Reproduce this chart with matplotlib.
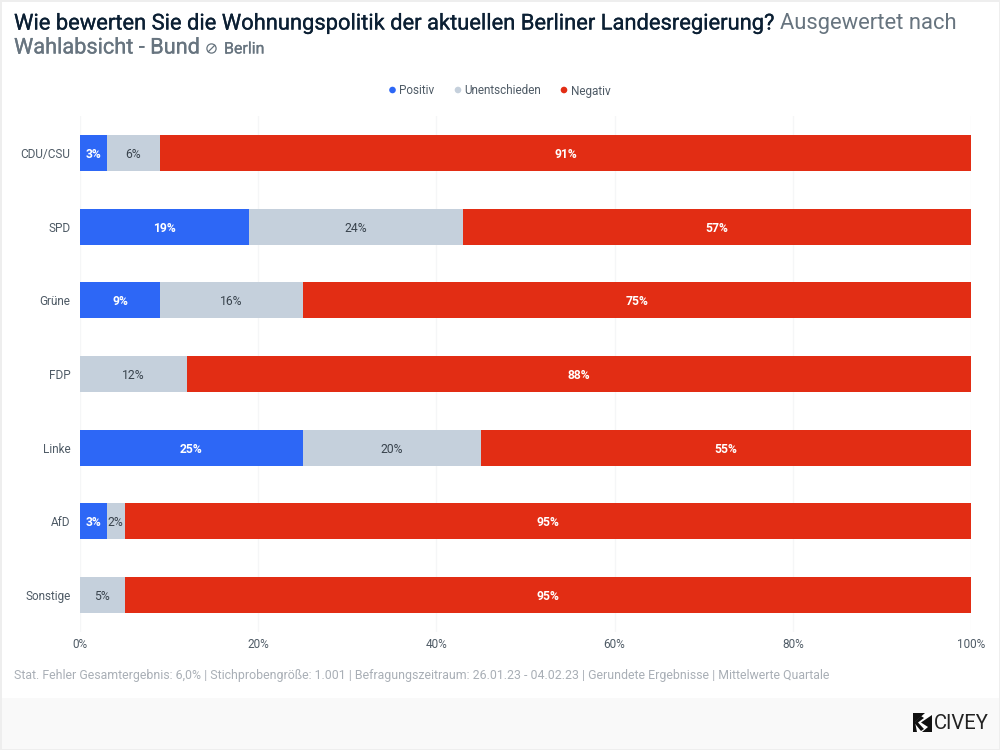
import matplotlib
matplotlib.use('Agg')
import matplotlib.pyplot as plt
from matplotlib.patches import Rectangle, Circle, Polygon
import matplotlib.patheffects as pe
import numpy as np

plt.rcParams['font.family'] = ['Roboto', 'DejaVu Sans']

# data
parties = ['CDU/CSU', 'SPD', 'Grüne', 'FDP', 'Linke', 'AfD', 'Sonstige']
positiv = [3, 19, 9, 0, 25, 3, 0]
unentschieden = [6, 24, 16, 12, 20, 2, 5]
negativ = [91, 57, 75, 88, 55, 95, 95]
ticks = [0, 20, 40, 60, 80, 100]
tick_labels = ['0%', '20%', '40%', '60%', '80%', '100%']

blue = '#2d67f6'
grey = '#c5d0dc'
red = '#e22d14'
dark = '#0b1f33'
title_grey = '#67747f'
label_grey = '#4f5b66'
foot_grey = '#a9afb6'

W, H = 1000, 750
fig = plt.figure(figsize=(10, 7.5), dpi=100, facecolor='white')

# full figure overlay in pixel coordinates for the page furniture
bg = fig.add_axes([0, 0, 1, 1], zorder=0)
bg.set_xlim(0, W)
bg.set_ylim(H, 0)
bg.axis('off')
bg.add_patch(Rectangle((0, 698), W, 52, fc='#f9f9f9', ec='none'))
bg.add_patch(Rectangle((0, 0), 1.5, H, fc='#eeeeee', ec='none'))
bg.add_patch(Rectangle((0, 0), W, 1.5, fc='#eeeeee', ec='none'))
bg.add_patch(Rectangle((998.5, 0), 1.5, H, fc='#eeeeee', ec='none'))
bg.add_patch(Rectangle((0, 748.5), W, 1.5, fc='#eeeeee', ec='none'))

# title, thin stroke stands in for the medium weight
t1 = bg.text(14, 24, 'Wie bewerten Sie die Wohnungspolitik der aktuellen Berliner Landesregierung?',
             fontsize=15.78, color=dark, va='center', ha='left')
t1.set_path_effects([pe.withStroke(linewidth=0.2, foreground=dark)])
bg.text(780, 24, 'Ausgewertet nach', fontsize=15.8, color=title_grey, va='center', ha='left')
t2 = bg.text(14, 48, 'Wahlabsicht - Bund', fontsize=15.65, color=title_grey, va='center', ha='left')
t2.set_path_effects([pe.withStroke(linewidth=0.2, foreground=title_grey)])
bg.add_patch(Circle((211.5, 48.5), 4.6, fc='none', ec=title_grey, lw=0.9))
bg.plot([208.3, 214.7], [51.7, 45.3], color=title_grey, lw=0.9)
t3 = bg.text(224, 49, 'Berlin', fontsize=11.5, color=title_grey, va='center', ha='left')
t3.set_path_effects([pe.withStroke(linewidth=0.15, foreground=title_grey)])

# legend
legend_items = [('Positiv', blue, 392.5, 399), ('Unentschieden', grey, 458, 464), ('Negativ', red, 564, 571)]
for name, col, cx, tx in legend_items:
    bg.add_patch(Circle((cx, 90), 3.3, fc=col, ec='none'))
    bg.text(tx, 91, name, fontsize=8.45, color=label_grey, va='center', ha='left')

# bars
ax = fig.add_axes([80 / W, 1 - 632 / H, 891 / W, 516 / H], zorder=1)
ax.patch.set_alpha(0)
y = np.arange(len(parties))
pos = np.array(positiv)
unt = np.array(unentschieden)
neg = np.array(negativ)
ax.barh(y, pos, height=0.49, color=blue, zorder=3)
ax.barh(y, unt, left=pos, height=0.49, color=grey, zorder=3)
ax.barh(y, neg, left=pos + unt, height=0.49, color=red, zorder=3)

for i in range(len(parties)):
    if pos[i] > 0:
        ax.text(pos[i] / 2, i, f'{pos[i]}%', ha='center', va='center_baseline', color='white',
                fontsize=8.7, weight='bold', zorder=4)
    ax.text(pos[i] + unt[i] / 2, i, f'{unt[i]}%', ha='center', va='center_baseline', color='#39434d',
            fontsize=8.7, zorder=4)
    ax.text(pos[i] + unt[i] + neg[i] / 2, i, f'{neg[i]}%', ha='center', va='center_baseline', color='white',
            fontsize=8.7, weight='bold', zorder=4)

ax.set_xlim(0, 100)
ax.set_ylim(len(parties) - 0.5, -0.5)
ax.set_xticks(ticks)
ax.set_xticklabels(tick_labels)
ax.set_yticks(y)
ax.set_yticklabels(parties)
ax.tick_params(axis='both', length=0, labelsize=8.5, labelcolor=label_grey)
ax.tick_params(axis='x', pad=4.5)
ax.tick_params(axis='y', pad=7)
ax.grid(axis='x', color='#f5f6f7', lw=1, zorder=0)
for side in ax.spines:
    ax.spines[side].set_visible(False)

# footnote
bg.text(14, 675, 'Stat. Fehler Gesamtergebnis: 6,0% | Stichprobengröße: 1.001 | Befragungszeitraum: 26.01.23 - 04.02.23 | Gerundete Ergebnisse | Mittelwerte Quartale',
        fontsize=8.95, color=foot_grey, va='center', ha='left')

# logo
bg.add_patch(Rectangle((913, 713), 19, 19, fc='#111111', ec='none'))
bg.add_patch(Polygon([[925, 713], [932, 713], [932, 715], [921, 722.5], [928, 727], [922, 732], [917, 732], [915, 722]],
                     fc='white', ec='none'))
bg.add_patch(Polygon([[914, 722.5], [921, 716], [924, 718], [918, 722.5], [924, 729], [921, 731]],
                     fc='#111111', ec='none'))
bg.text(934, 723.5, 'CIVEY', fontsize=14.6, color='#222222', va='center', ha='left')

fig.savefig('out.png', dpi=100)
